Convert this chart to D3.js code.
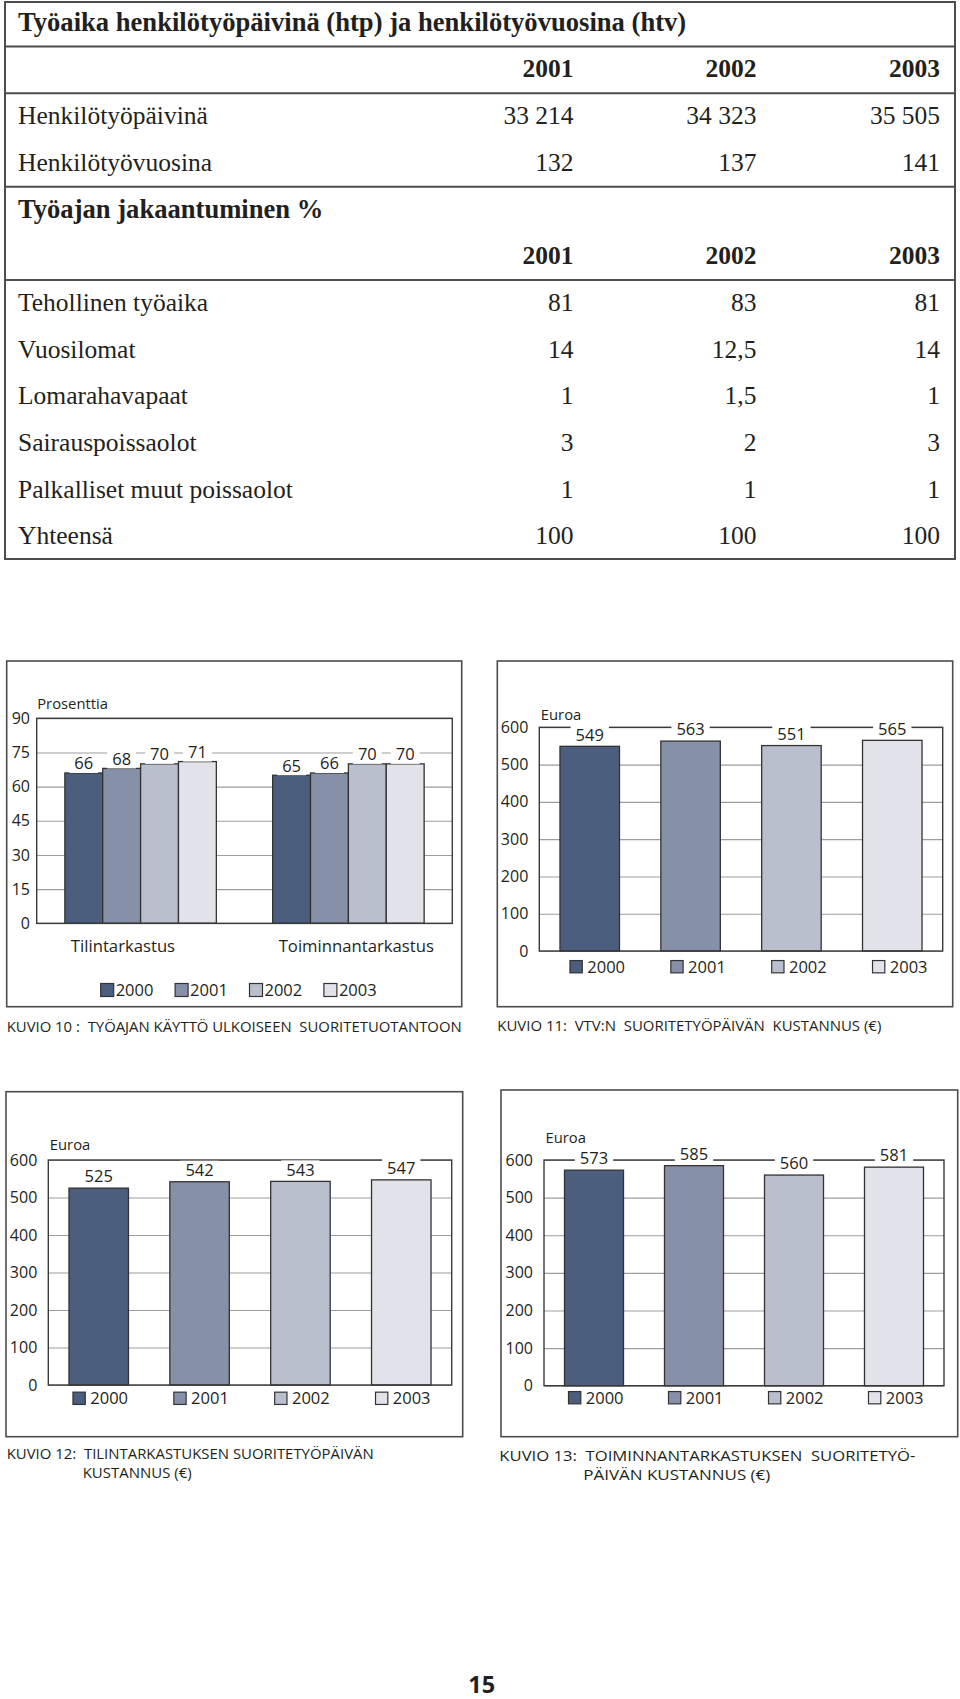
<!DOCTYPE html>
<html><head><meta charset="utf-8">
<script src="https://cdn.jsdelivr.net/npm/d3@7"></script>
<style>body{margin:0;background:#fff}</style>
</head><body>
<script>
// ---------------- DATA ----------------
const tableYears = ["2001", "2002", "2003"];
const tableTitle = "Työaika henkilötyöpäivinä (htp) ja henkilötyövuosina (htv)";
const workRows = ["Henkilötyöpäivinä", "Henkilötyövuosina"];
const workValues = [[33214, 34323, 35505], [132, 137, 141]];
const shareTitle = "Työajan jakaantuminen %";
const shareRows = ["Tehollinen työaika", "Vuosilomat", "Lomarahavapaat", "Sairauspoissaolot", "Palkalliset muut poissaolot", "Yhteensä"];
const shareValues = [[81, 83, 81], [14, 12.5, 14], [1, 1.5, 1], [3, 2, 3], [1, 1, 1], [100, 100, 100]];

const seriesYears = ["2000", "2001", "2002", "2003"];
const seriesColors = ["#4b5e7e", "#8690a8", "#b9bfcc", "#e1e2ea"];

const k10Categories = ["Tilintarkastus", "Toiminnantarkastus"];
const k10Tilintarkastus = [66, 68, 70, 71];
const k10Toiminnantarkastus = [65, 66, 70, 70];
const k10Ticks = [0, 15, 30, 45, 60, 75, 90];
const k10Unit = "Prosenttia";
const k10Caption = "KUVIO 10 :  TYÖAJAN KÄYTTÖ ULKOISEEN  SUORITETUOTANTOON";

const euroTicks = [0, 100, 200, 300, 400, 500, 600];
const euroUnit = "Euroa";
const k11Values = [549, 563, 551, 565];
const k11Caption = ["KUVIO 11:  VTV:N  SUORITETYÖPÄIVÄN  KUSTANNUS (€)"];
const k12Values = [525, 542, 543, 547];
const k12Caption = ["KUVIO 12:  TILINTARKASTUKSEN SUORITETYÖPÄIVÄN", "KUSTANNUS (€)"];
const k13Values = [573, 585, 560, 581];
const k13Caption = ["KUVIO 13:  TOIMINNANTARKASTUKSEN  SUORITETYÖ-", "PÄIVÄN KUSTANNUS (€)"];
const pageNumber = "15";

// ---------------- SETUP ----------------
const INK = "#231f20";
const SANS = "'Open Sans', 'Noto Sans', sans-serif";
const SERIF = "'Liberation Serif', serif";
const fiLocale = d3.formatLocale({decimal: ",", thousands: " ", grouping: [3], currency: ["", "€"]});
const fmt = fiLocale.format(",");

const svg = d3.select("body").append("svg")
  .attr("width", 960).attr("height", 1699).style("display", "block");

// ---------------- TABLE ----------------
const T = {left: 5, right: 955, top: 2, bottom: 559, textX: 18, cols: [573.6, 756.4, 940],
           row0: 21.7, step: 46.7, size: 25.5, titleSize: 26.6};
const tableRows = [
  {type: "title", text: tableTitle},
  {type: "header"},
  ...workRows.map((r, i) => ({type: "data", label: r, values: workValues[i]})),
  {type: "title", text: shareTitle},
  {type: "header"},
  ...shareRows.map((r, i) => ({type: "data", label: r, values: shareValues[i]}))
];
const ruleAfter = [0, 1, 3, 5];
const tg = svg.append("g").attr("font-family", SERIF).attr("fill", INK);
tg.append("rect").attr("x", T.left).attr("y", T.top).attr("width", T.right - T.left).attr("height", T.bottom - T.top)
  .attr("fill", "none").attr("stroke", "#4d4d4d").attr("stroke-width", 2);
const rowY = i => T.row0 + i * T.step;
ruleAfter.forEach(i => {
  const y = (rowY(i) + rowY(i + 1)) / 2 + 1.5;
  tg.append("line").attr("x1", T.left).attr("x2", T.right).attr("y1", y).attr("y2", y)
    .attr("stroke", "#4d4d4d").attr("stroke-width", 2);
});
tableRows.forEach((r, i) => {
  const y = rowY(i);
  if (r.type === "title") {
    tg.append("text").attr("x", T.textX).attr("y", y).attr("dy", "0.35em")
      .attr("font-weight", "bold").attr("font-size", T.titleSize).text(r.text);
  } else if (r.type === "header") {
    tableYears.forEach((yr, j) => tg.append("text").attr("x", T.cols[j]).attr("y", y).attr("dy", "0.35em")
      .attr("text-anchor", "end").attr("font-weight", "bold").attr("font-size", T.size).text(yr));
  } else {
    tg.append("text").attr("x", T.textX).attr("y", y).attr("dy", "0.35em").attr("font-size", T.size).text(r.label);
    r.values.forEach((v, j) => tg.append("text").attr("x", T.cols[j]).attr("y", y).attr("dy", "0.35em")
      .attr("text-anchor", "end").attr("font-size", T.size).text(fmt(v)));
  }
});

// ---------------- HELPERS ----------------
function drawBox(g, b) {
  g.append("rect").attr("x", b[0]).attr("y", b[1]).attr("width", b[2] - b[0]).attr("height", b[3] - b[1])
    .attr("fill", "none").attr("stroke", "#4d4d4d").attr("stroke-width", 1.6);
}
function drawGrid(g, y, ticks, plot) {
  g.append("g").attr("transform", `translate(${plot[0]},0)`)
    .call(d3.axisLeft(y).tickValues(ticks).tickSize(-(plot[2] - plot[0])).tickFormat(""))
    .call(s => s.select(".domain").remove())
    .call(s => s.selectAll("line").attr("stroke", "#9d9d9d").attr("stroke-width", 1.1));
}
function drawTickLabels(g, y, ticks, plot, pad) {
  g.append("g").attr("transform", `translate(${plot[0]},0)`)
    .call(d3.axisLeft(y).tickValues(ticks).tickSize(0).tickPadding(pad))
    .attr("font-family", SANS).attr("font-size", 16)
    .call(s => s.select(".domain").remove())
    .call(s => s.selectAll("text").attr("fill", INK));
}
function drawPlotFrame(g, plot) {
  g.append("rect").attr("x", plot[0]).attr("y", plot[1]).attr("width", plot[2] - plot[0]).attr("height", plot[3] - plot[1])
    .attr("fill", "none").attr("stroke", "#3a3a3a").attr("stroke-width", 1.4);
}
function valueLabel(g, x, yc, text) {
  const t = g.append("text").attr("x", x).attr("y", yc).attr("dy", "0.35em").attr("text-anchor", "middle")
    .attr("font-family", SANS).attr("font-size", 16.5).attr("fill", INK).text(text);
  const w = t.node().getComputedTextLength();
  g.insert("rect", () => t.node()).attr("x", x - w / 2 - 5).attr("y", yc - 9.5).attr("width", w + 10).attr("height", 19)
    .attr("fill", "#fff");
}
function legendItem(g, x, yc, size, gap, color, label) {
  g.append("rect").attr("x", x).attr("y", yc - size / 2).attr("width", size).attr("height", size)
    .attr("fill", color).attr("stroke", "#333").attr("stroke-width", 1.2);
  g.append("text").attr("x", x + size + gap).attr("y", yc).attr("dy", "0.36em")
    .attr("font-family", SANS).attr("font-size", 16.5).attr("fill", INK).text(label);
}
function captionLines(g, lines) {
  lines.forEach(c => g.append("text").attr("x", c.x).attr("y", c.y).attr("dy", "0.36em")
    .attr("font-family", SANS).attr("font-size", 14).attr("fill", INK)
    .style("white-space", "pre")
    .attr("textLength", c.w).attr("lengthAdjust", "spacingAndGlyphs").text(c.text));
}

// ---------------- KUVIO 10 ----------------
(function () {
  const box = [6.7, 661, 461.7, 1006.7];
  const plot = [36.7, 718.3, 452.3, 923.3];
  const g = svg.append("g");
  drawBox(g, box);
  const y = d3.scaleLinear().domain([0, 90]).range([plot[3], plot[1]]);
  const x0 = d3.scaleBand().domain(k10Categories).range([plot[0], plot[2]]).paddingInner(0.271).paddingOuter(0.1355);
  const x1 = d3.scaleBand().domain(seriesYears).range([0, x0.bandwidth()]);
  drawGrid(g, y, k10Ticks, plot);
  const groups = [k10Tilintarkastus, k10Toiminnantarkastus];
  groups.forEach((vals, gi) => {
    const cat = k10Categories[gi];
    g.selectAll(null).data(vals).join("rect")
      .attr("x", (d, i) => x0(cat) + x1(seriesYears[i]))
      .attr("y", d => y(d)).attr("width", x1.bandwidth()).attr("height", d => y(0) - y(d))
      .attr("fill", (d, i) => seriesColors[i]).attr("stroke", "#333").attr("stroke-width", 1.3);
  });
  drawPlotFrame(g, plot);
  drawTickLabels(g, y, k10Ticks, plot, 6.7);
  groups.forEach((vals, gi) => {
    const cat = k10Categories[gi];
    vals.forEach((v, i) => valueLabel(g, x0(cat) + x1(seriesYears[i]) + x1.bandwidth() / 2, y(v) - 9.5, String(v)));
  });
  g.append("text").attr("x", plot[0] + 0.5).attr("y", 704).attr("dy", "0.35em")
    .attr("font-family", SANS).attr("font-size", 14.8).attr("fill", INK).text(k10Unit);
  k10Categories.forEach(c => g.append("text").attr("x", x0(c) + 6).attr("y", 945.7).attr("dy", "0.36em")
    .attr("font-family", SANS).attr("font-size", 16.7).attr("fill", INK).text(c));
  const lx = d3.scaleBand().domain(seriesYears).range([100.7, 100.7 + 4 * 74.4]);
  seriesYears.forEach((yr, i) => legendItem(g, lx(yr), 990, 13, 2, seriesColors[i], yr));
  captionLines(g, [{text: k10Caption, x: 6.7, y: 1026.7, w: 455}]);
})();

// ---------------- KUVIO 11-13 ----------------
function singleChart(cfg) {
  const g = svg.append("g");
  drawBox(g, cfg.box);
  const plot = cfg.plot;
  const y = d3.scaleLinear().domain([0, 600]).range([plot[3], plot[1]]);
  const x = d3.scaleBand().domain(seriesYears).range([plot[0], plot[2]]).paddingInner(0.41).paddingOuter(0.205);
  drawGrid(g, y, euroTicks, plot);
  g.selectAll(null).data(cfg.values).join("rect")
    .attr("x", (d, i) => x(seriesYears[i])).attr("y", d => y(d))
    .attr("width", x.bandwidth()).attr("height", d => y(0) - y(d))
    .attr("fill", (d, i) => seriesColors[i]).attr("stroke", "#333").attr("stroke-width", 1.3);
  drawPlotFrame(g, plot);
  drawTickLabels(g, y, euroTicks, plot, 11);
  cfg.values.forEach((v, i) => valueLabel(g, x(seriesYears[i]) + x.bandwidth() / 2, y(v) - 11.5, String(v)));
  g.append("text").attr("x", plot[0] + 1.5).attr("y", cfg.unitY).attr("dy", "0.35em")
    .attr("font-family", SANS).attr("font-size", 14.8).attr("fill", INK).text(euroUnit);
  seriesYears.forEach((yr, i) => legendItem(g, x(yr) + cfg.legendDx, cfg.legendY, 12.3, 5, seriesColors[i], yr));
  captionLines(g, cfg.captions);
}
singleChart({
  box: [497.3, 661, 952.7, 1006.7], plot: [539.3, 727.3, 942.7, 951], values: k11Values,
  unitY: 715, legendY: 966.7, legendDx: 10,
  captions: [{text: k11Caption[0], x: 497.3, y: 1025.7, w: 384}]
});
singleChart({
  box: [6, 1091.7, 462.7, 1436.7], plot: [48.3, 1160, 451.7, 1385], values: k12Values,
  unitY: 1145, legendY: 1398.3, legendDx: 4,
  captions: [{text: k12Caption[0], x: 6.7, y: 1453.5, w: 367}, {text: k12Caption[1], x: 82.7, y: 1472.8, w: 109}]
});
singleChart({
  box: [501, 1090, 957.7, 1436.7], plot: [544, 1160, 944, 1385.7], values: k13Values,
  unitY: 1137.7, legendY: 1397.7, legendDx: 4,
  captions: [{text: k13Caption[0], x: 499.3, y: 1455.9, w: 416}, {text: k13Caption[1], x: 583.3, y: 1475.2, w: 187}]
});

// ---------------- PAGE NUMBER ----------------
svg.append("text").attr("x", 481.7).attr("y", 1693).attr("text-anchor", "middle")
  .attr("font-family", SANS).attr("font-weight", "bold").attr("font-size", 23.5).attr("fill", INK).text(pageNumber);
</script>
</body></html>
